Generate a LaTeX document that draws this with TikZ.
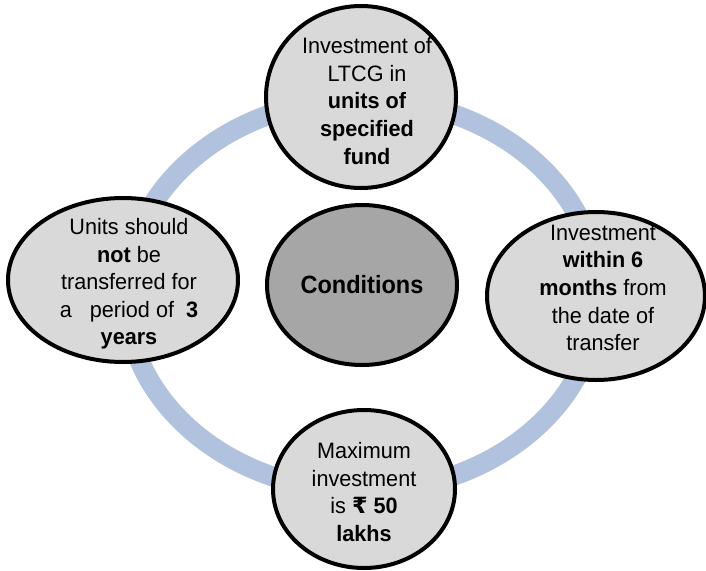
\documentclass[tikz,border=0pt]{standalone}
\usepackage{fontspec}
\setmainfont{Liberation Sans}[FakeStretch=0.97]
\newfontfamily\rupeefont{DejaVu Sans}
\newfontfamily\condfont{Liberation Sans}[FakeStretch=0.94]
\usetikzlibrary{shapes.geometric,calc}
\definecolor{ringc}{HTML}{B0C2DE}
\definecolor{outerfill}{HTML}{D9D9D9}
\definecolor{centerfill}{HTML}{A6A6A6}
\tikzset{
  ell/.style={ellipse, draw=black, line width=4pt, fill=outerfill, inner sep=0pt},
  txt/.style={inner sep=0pt, align=center, font=\fontsize{22.3}{27.6}\selectfont},
  centre/.style={ell, fill=centerfill, font=\condfont\fontsize{25}{28}\selectfont\bfseries},
}
\begin{document}
\begin{tikzpicture}[x=1pt,y=-1pt]
\useasboundingbox (0,0) rectangle (706,570);
\coordinate (ringc) at (362,295);
\draw[ringc, line width=20pt] (ringc) ellipse [x radius=236, y radius=196];
\node[ell, minimum width=190pt, minimum height=182pt] (top) at (361,97) {};
\node[txt] (toptext) at ($(top)+(6,4)$)
  {Investment of\\LTCG in\\\textbf{units of}\\\textbf{specified}\\\textbf{fund}};
\node[ell, minimum width=218pt, minimum height=168pt] (right) at (596,296) {};
\node[txt] (righttext) at ($(right)+(7,-8)$)
  {Investment\\\textbf{within 6}\\\textbf{months} from\\the date of\\transfer};
\node[ell, minimum width=230pt, minimum height=164pt] (left) at (123,280) {};
\node[txt] (lefttext) at ($(left)+(6,4)$)
  {Units should\\\textbf{not} be\\transferred for\\a\ \ \ period of\ \ \textbf{3}\\\textbf{years}};
\node[ell, minimum width=182pt, minimum height=158pt] (bottom) at (364,489) {};
\node[txt] (bottomtext) at ($(bottom)+(0,3)$)
  {Maximum\\investment\\is {\bfseries{\rupeefont ₹} 50}\\\textbf{lakhs}};
\node[centre, minimum width=190pt, minimum height=160pt] (center) at (362,285) {Conditions};
\end{tikzpicture}
\end{document}
